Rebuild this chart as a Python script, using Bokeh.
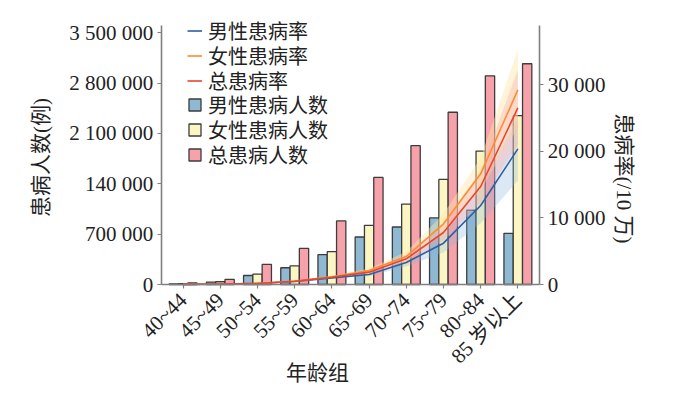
from math import pi
from bokeh.plotting import figure
from bokeh.models import (FactorRange, Range1d, LinearAxis, CategoricalAxis, FixedTicker,
                          Legend, LegendItem, Label, Grid, ColumnDataSource)
from bokeh.transform import dodge
from bokeh.embed import file_html
from bokeh.resources import INLINE

# ---------------- data ----------------
age_groups = ["40~44", "45~49", "50~54", "55~59", "60~64", "65~69",
              "70~74", "75~79", "80~84", "85 岁以上"]

male_cases = [10000, 32000, 125000, 233000, 414000, 660000, 799000, 925000, 1032000, 711000]
female_cases = [12000, 38000, 144000, 260000, 456000, 823000, 1116000, 1460000, 1855000, 2347000]
total_cases = [22000, 70000, 279000, 502000, 883000, 1488000, 1929000, 2394000, 2900000, 3068000]

male_rate = [20, 60, 140, 450, 1000, 1500, 3300, 6200, 11850, 20350]
female_rate = [20, 70, 160, 520, 1150, 2100, 4200, 9100, 16600, 29200]
total_rate = [20, 65, 150, 490, 1080, 1850, 3850, 7800, 14700, 26500]

male_rate_lo = [20, 60, 130, 420, 920, 1250, 2700, 4800, 9200, 15600]
male_rate_hi = [20, 60, 150, 480, 1080, 1750, 3900, 7600, 14500, 25000]
female_rate_lo = [20, 70, 150, 490, 1060, 1800, 3500, 7600, 14200, 23500]
female_rate_hi = [20, 70, 170, 550, 1240, 2400, 4900, 10600, 19000, 35200]
total_rate_lo = [20, 65, 140, 460, 1000, 1550, 3200, 6600, 12300, 21000]
total_rate_hi = [20, 65, 160, 520, 1160, 2150, 4500, 9000, 17100, 32200]

left_ticks = [0, 700000, 1400000, 2100000, 2800000, 3500000]
left_tick_labels = ["0", "700 000", "140 000", "2 100 000", "2 800 000", "3 500 000"]
right_ticks = [0, 10000, 20000, 30000]
right_tick_labels = ["0", "10 000", "20 000", "30 000"]
left_max = 3600000
right_max = 38850

series_labels = ["男性患病率", "女性患病率", "总患病率", "男性患病人数", "女性患病人数", "总患病人数"]
x_title = "年龄组"
y_left_title = "患病人数(例)"
y_right_title = "患病率(/10 万)"

# ---------------- layout / styles ----------------
SERIF = "'Liberation Serif', 'Noto Sans CJK SC'"
AXIS_COLOR = "#808080"
TEXT_COLOR = "#222222"

# The frame covers (nearly) the whole canvas; the axes are drawn at fixed
# positions inside it so that every label can sit where the reference has it.
FRAME_LEFT, FRAME_W = 12, 676
FRAME_TOP, FRAME_H = 2, 393
frame_bottom = FRAME_TOP + FRAME_H
AXIS_TOP, AXIS_ZERO = 25, 284            # pixel rows of the value axes
axis_px = AXIS_ZERO - AXIS_TOP
n = len(age_groups)
cat_pad = 4.087                          # category units of padding on each side
edge = 0.585                             # spine extends this far past outer groups

src = ColumnDataSource(dict(
    age=age_groups, male=male_cases, female=female_cases, total=total_cases,
    male_rate=male_rate, female_rate=female_rate, total_rate=total_rate,
    male_lo=male_rate_lo, male_hi=male_rate_hi,
    female_lo=female_rate_lo, female_hi=female_rate_hi,
    total_lo=total_rate_lo, total_hi=total_rate_hi,
))

def yr_range(vmax):
    return Range1d(-vmax * (frame_bottom - AXIS_ZERO) / axis_px,
                   vmax * (AXIS_ZERO - FRAME_TOP) / axis_px)

p = figure(
    x_range=FactorRange(*age_groups, range_padding=2 * cat_pad / n),
    y_range=yr_range(left_max),
    frame_width=FRAME_W, frame_height=FRAME_H,
    min_border_left=FRAME_LEFT, min_border_right=4,
    min_border_top=FRAME_TOP, min_border_bottom=2,
    x_axis_location=None, y_axis_location=None,
    output_backend="svg", toolbar_location=None,
)
p.extra_y_ranges = {"rate": yr_range(right_max)}
p.center = [r for r in p.center if not isinstance(r, Grid)]
p.outline_line_color = None
p.background_fill_color = "white"
p.border_fill_color = "white"

# bars
bw = 0.25
b1 = p.vbar(x=dodge("age", -bw, range=p.x_range), top="male", width=bw, source=src,
            fill_color="#8fb8d2", line_color="#3c3c3c", line_width=1.3)
b2 = p.vbar(x=dodge("age", 0, range=p.x_range), top="female", width=bw, source=src,
            fill_color="#fbf6c4", line_color="#3c3c3c", line_width=1.3)
b3 = p.vbar(x=dodge("age", bw, range=p.x_range), top="total", width=bw, source=src,
            fill_color="#f7a2aa", line_color="#3c3c3c", line_width=1.3)

# confidence bands
p.varea(x="age", y1="male_lo", y2="male_hi", source=src, y_range_name="rate",
        fill_color="#8ab4dc", fill_alpha=0.3)
p.varea(x="age", y1="female_lo", y2="female_hi", source=src, y_range_name="rate",
        fill_color="#fde6a8", fill_alpha=0.45)
p.varea(x="age", y1="total_lo", y2="total_hi", source=src, y_range_name="rate",
        fill_color="#f8a8a8", fill_alpha=0.35)

# rate lines
l1 = p.line(x="age", y="male_rate", source=src, y_range_name="rate",
            line_color="#2f5f9f", line_width=1.6)
l2 = p.line(x="age", y="female_rate", source=src, y_range_name="rate",
            line_color="#ff8a33", line_width=1.6)
l3 = p.line(x="age", y="total_rate", source=src, y_range_name="rate",
            line_color="#e8442f", line_width=1.6)

# axes
def style_axis(ax):
    ax.axis_line_color = AXIS_COLOR
    ax.axis_line_width = 1.6
    ax.major_tick_line_color = AXIS_COLOR
    ax.major_tick_line_width = 1.2
    ax.major_tick_out = 4
    ax.major_tick_in = 0
    ax.minor_tick_line_color = None
    ax.major_label_text_font = SERIF
    ax.major_label_text_font_size = "21px"
    ax.major_label_text_color = TEXT_COLOR
    ax.major_label_standoff = 4

x_lo, x_hi = -edge + 0.5, n - 0.5 + edge

xa = CategoricalAxis(fixed_location=0, bounds=(x_lo, x_hi))
style_axis(xa)
xa.major_label_orientation = pi / 4
xa.major_label_standoff = 8
p.add_layout(xa, "below")

yl = LinearAxis(ticker=FixedTicker(ticks=left_ticks), fixed_location=x_lo,
                bounds=(0, left_max))
yl.major_label_overrides = dict(zip(left_ticks, left_tick_labels))
style_axis(yl)
p.add_layout(yl, "left")

yr = LinearAxis(y_range_name="rate", ticker=FixedTicker(ticks=right_ticks),
                fixed_location=x_hi, bounds=(0, right_max))
yr.major_label_overrides = dict(zip(right_ticks, right_tick_labels))
style_axis(yr)
p.add_layout(yr, "right")

# axis titles (screen units measured from the frame's bottom-left corner)
for txt, px, py, ang in [(y_left_title, 40, 157, pi / 2),
                         (y_right_title, 623, 178, -pi / 2),
                         (x_title, 317, 372, 0)]:
    p.add_layout(Label(x=px - FRAME_LEFT, y=frame_bottom - py,
                       x_units="screen", y_units="screen", text=txt, angle=ang,
                       text_align="center", text_baseline="middle",
                       text_font=SERIF, text_font_size="21px", text_color=TEXT_COLOR))

# legend: one single-item legend per row so the row pitch matches the reference
LEG_X, LEG_ROW0, LEG_PITCH, LEG_ITEM_H = 187, 31, 24.6, 29
for k, (lab, rend) in enumerate(zip(series_labels, [l1, l2, l3, b1, b2, b3])):
    row_center = LEG_ROW0 + k * LEG_PITCH
    lg = Legend(items=[LegendItem(label=lab, renderers=[rend])],
                location=(LEG_X - FRAME_LEFT,
                          round(frame_bottom - row_center - LEG_ITEM_H / 2)))
    lg.background_fill_alpha = 0
    lg.border_line_color = None
    lg.label_text_font = SERIF
    lg.label_text_font_size = "20px"
    lg.label_text_color = TEXT_COLOR
    lg.glyph_width = 15
    lg.glyph_height = 15
    lg.label_height = 20
    lg.label_standoff = 6
    lg.padding = 0
    lg.margin = 0
    p.add_layout(lg)

open("out.html", "w").write(file_html(p, INLINE))
